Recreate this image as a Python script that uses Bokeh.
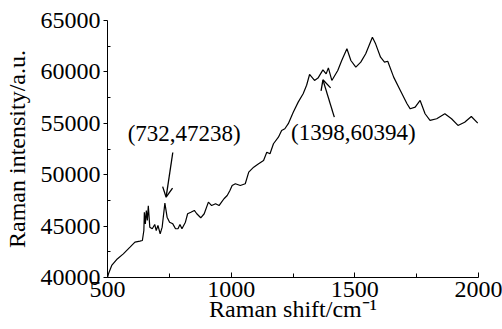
from bokeh.plotting import figure
from bokeh.models import Range1d, FixedTicker, Label, Arrow, OpenHead
from bokeh.embed import file_html
from bokeh.resources import INLINE

# Raman spectrum
shift = [500, 504, 517, 537, 564, 591, 611, 631, 641, 647, 649, 653, 657, 661, 665,
         671, 681, 691, 697, 704, 713, 721, 732, 741, 751, 764, 775, 785, 793, 801,
         815, 824, 837, 851, 861, 877, 891, 908, 921, 937, 951, 961, 971, 984, 995,
         1004, 1017, 1037, 1057, 1071, 1091, 1111, 1131, 1144, 1157, 1171, 1191, 1204,
         1217, 1231, 1251, 1271, 1291, 1305, 1317, 1337, 1351, 1371, 1384, 1393, 1407,
         1431, 1447, 1468, 1484, 1504, 1524, 1544, 1571, 1584, 1604, 1620, 1633, 1657,
         1684, 1711, 1724, 1744, 1764, 1784, 1804, 1831, 1864, 1891, 1917, 1944, 1971, 1997]
intensity = [40000, 40360, 41170, 41750, 42300, 42950, 43440, 43540, 43600, 44570, 46350,
             45220, 46520, 45550, 46970, 44900, 44740, 45160, 44570, 45060, 44250, 44900,
             47238, 45870, 45380, 45220, 44740, 44740, 45160, 44740, 45380, 46200, 46350,
             46520, 46200, 45810, 46200, 47330, 47000, 47170, 47000, 47330, 47660, 47980,
             48470, 48950, 49120, 48950, 49120, 50250, 50730, 51060, 51380, 52190, 52040,
             53010, 53650, 54300, 54470, 54960, 56080, 57060, 57870, 58700, 59750, 59170,
             59400, 60200, 59810, 60394, 59170, 60140, 61110, 62250, 61110, 60460, 60950,
             61760, 63380, 62730, 61430, 60950, 61040, 59490, 58200, 56900, 56410, 56570,
             57220, 55930, 55280, 55440, 55930, 55440, 54790, 55110, 55660, 55010]

x_ticks = [500, 1000, 1500, 2000]
x_minor = [750, 1250, 1750]
y_ticks = [40000, 45000, 50000, 55000, 60000, 65000]
y_minor = [42500, 47500, 52500, 57500, 62500]

x_title = "Raman shift/cm\u207b\u00b9"
y_title = "Raman intensity/a.u."

# annotations: text, text centre (x, y), arrow start, arrow tip
ann_text = ["(732,47238)", "(1398,60394)"]
ann_xy = [(810, 54000), (1494, 54140)]
arr_start = [(764, 52160), (1417, 55600)]
arr_tip = [(737, 47810), (1371, 59230)]

FONT = "Liberation Serif"

p = figure(width=502, height=329, output_backend="svg", toolbar_location=None,
           x_range=Range1d(500, 2000), y_range=Range1d(40000, 65000),
           min_border_left=104, min_border_right=24, min_border_top=20, min_border_bottom=52)
p.outline_line_color = None
p.xgrid.visible = False
p.ygrid.visible = False
p.background_fill_color = "white"
p.border_fill_color = "white"

p.line(shift, intensity, line_color="black", line_width=1.2)

p.xaxis.ticker = FixedTicker(ticks=x_ticks, minor_ticks=x_minor)
p.yaxis.ticker = FixedTicker(ticks=y_ticks, minor_ticks=y_minor)
p.xaxis.axis_label = x_title
p.yaxis.axis_label = y_title
for ax in (p.xaxis[0], p.yaxis[0]):
    ax.axis_line_color = "black"
    ax.axis_line_width = 1
    ax.major_tick_line_color = "black"
    ax.minor_tick_line_color = "black"
    ax.major_label_text_font = FONT
    ax.major_label_text_font_size = "24px"
    ax.major_label_text_color = "black"
    ax.axis_label_text_font = FONT
    ax.axis_label_text_font_size = "24px"
    ax.axis_label_text_font_style = "normal"
    ax.axis_label_text_color = "black"

p.xaxis.major_tick_in = 5
p.xaxis.major_tick_out = 0
p.xaxis.minor_tick_in = 4
p.xaxis.minor_tick_out = 0
p.xaxis.major_label_standoff = 4
p.xaxis.axis_label_standoff = -4

p.yaxis.major_tick_in = 0
p.yaxis.major_tick_out = 4
p.yaxis.minor_tick_in = 3
p.yaxis.minor_tick_out = 0
p.yaxis.major_label_standoff = 3
p.yaxis.axis_label_standoff = 8

for t, (tx, ty), (sx, sy), (ex, ey) in zip(ann_text, ann_xy, arr_start, arr_tip):
    p.add_layout(Label(x=tx, y=ty, text=t, text_font=FONT, text_font_size="23px",
                       text_align="center", text_baseline="middle", text_color="black"))
    p.add_layout(Arrow(x_start=sx, y_start=sy, x_end=ex, y_end=ey, line_width=1.3,
                       end=OpenHead(size=10, line_width=1.3, line_color="black"),
                       line_color="black"))

open("out.html", "w").write(file_html(p, INLINE))
